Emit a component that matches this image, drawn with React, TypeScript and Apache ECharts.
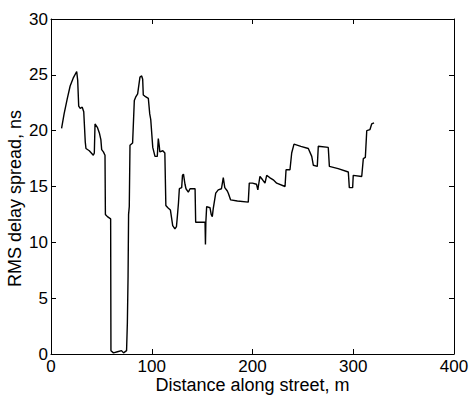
import React, { useEffect, useRef } from "react";
import * as echarts from "echarts";

const distance: number[] = [
  10.5, 13, 16, 19, 22, 25.5, 26.5, 27.5, 29, 31, 32.5, 34, 34.7, 38, 42, 43, 43.7, 46, 48, 49.5,
  50.3, 52, 53.6, 54, 56, 59.2, 59.5, 62, 66, 70, 72, 75, 75.8, 76.5, 77, 77.7, 78.4, 81, 82.7, 84,
  86, 88.3, 90, 91, 91.6, 93, 96.6, 98, 99, 101, 103.2, 105.5, 106.5, 107.5, 108, 111, 113, 114, 116, 118.5,
  120.8, 123, 124.5, 125.4, 126.5, 127.4, 129.7, 130.5, 131.5, 133, 134, 136.3, 138, 143, 143.6, 148, 152.9, 153.3, 153.7, 154.5,
  157.8, 159, 160.1, 161, 163.5, 166, 169.2, 171, 172.5, 175, 176, 178.3, 185, 195.8, 196.8, 200, 204, 205.3, 205.8, 207.4,
  210, 212.4, 214.1, 217, 220.6, 224, 232.3, 233.3, 237.2, 238.9, 241.2, 248, 255.4, 258.8, 260.4, 264.3, 265.3, 275.2, 276.3, 285,
  295.1, 296.1, 299.4, 300, 308.4, 310, 312, 313.4, 316.6, 318.3, 320.6,
];

const delaySpread: number[] = [
  20.2, 21.5, 22.8, 24, 24.7, 25.3, 24.5, 22.2, 22, 22.1, 21.7, 19, 18.4, 18.2, 17.8, 18, 20.6, 20.3, 19.8, 19.2,
  18.3, 18.1, 17.8, 12.5, 12.3, 12.1, 0.3, 0.1, 0.2, 0.3, 0.1, 0.3, 2.8, 7, 12.5, 13.2, 18.7, 18.9, 22.7, 23,
  23.3, 24.8, 24.9, 24.6, 23.2, 23.1, 22.9, 21.5, 21, 18.5, 17.7, 17.7, 19.3, 18.6, 18.1, 18.2, 18, 13.3, 13.1, 12.9,
  11.5, 11.2, 11.4, 12.3, 13.5, 14.8, 14.9, 16, 16.1, 15.2, 14.8, 14.5, 14.8, 14.8, 11.8, 11.8, 11.8, 9.8, 11.8, 13.2,
  13.1, 12.5, 12.3, 13, 14.4, 14.7, 14.8, 15.8, 14.9, 14.6, 14.4, 13.8, 13.7, 13.6, 15.3, 15.3, 15.2, 14.7, 15, 15.9,
  15.6, 15.3, 16, 15.8, 15.6, 15.3, 15, 16.5, 16.5, 18, 18.8, 18.6, 18.4, 17.7, 16.9, 16.8, 18.6, 18.5, 16.8, 16.6,
  16.3, 14.9, 14.9, 16, 15.9, 17.5, 17.6, 20, 20.1, 20.6, 20.7,
];

const xTitle = "Distance along street, m";
const yTitle = "RMS delay spread, ns";

export default function App() {
  const ref = useRef<HTMLDivElement>(null);
  useEffect(() => {
    if (!ref.current) return;
    const chart = echarts.init(ref.current, null, { renderer: "svg" });
    const font = "Liberation Sans, Arial, sans-serif";
    const lineStyle = { color: "#000", width: 1 };
    const tick = { show: true, inside: true, length: 5, lineStyle };
    chart.setOption({
      animation: false,
      backgroundColor: "#fff",
      grid: { left: 51, right: 16, top: 19, bottom: 42, containLabel: false, outerBoundsMode: "none" },
      xAxis: [
        {
          type: "value",
          min: 0,
          max: 400,
          interval: 100,
          position: "bottom",
          axisLine: { show: true, onZero: false, lineStyle },
          axisTick: tick,
          splitLine: { show: false },
          axisLabel: { color: "#000", fontSize: 17, fontFamily: font, margin: 4, lineHeight: 17 },
          name: xTitle,
          nameLocation: "middle",
          nameGap: 22,
          nameMoveOverlap: false,
          nameTextStyle: { color: "#000", fontSize: 18, fontFamily: font, lineHeight: 18 },
        },
        {
          type: "value",
          min: 0,
          max: 400,
          interval: 100,
          position: "top",
          axisLine: { show: true, onZero: false, lineStyle },
          axisTick: tick,
          splitLine: { show: false },
          axisLabel: { show: false },
        },
      ],
      yAxis: [
        {
          type: "value",
          min: 0,
          max: 30,
          interval: 5,
          position: "left",
          axisLine: { show: true, onZero: false, lineStyle },
          axisTick: tick,
          splitLine: { show: false },
          axisLabel: { color: "#000", fontSize: 17, fontFamily: font, margin: 3 },
          name: yTitle,
          nameLocation: "middle",
          nameGap: 27,
          nameMoveOverlap: false,
          nameRotate: 90,
          nameTextStyle: { color: "#000", fontSize: 18, fontFamily: font, lineHeight: 18, padding: [0, 24, 0, 0] },
        },
        {
          type: "value",
          min: 0,
          max: 30,
          interval: 5,
          position: "right",
          axisLine: { show: true, onZero: false, lineStyle },
          axisTick: tick,
          splitLine: { show: false },
          axisLabel: { show: false },
        },
      ],
      series: [
        {
          type: "line",
          xAxisIndex: 0,
          yAxisIndex: 0,
          data: distance.map((d, i) => [d, delaySpread[i]]),
          showSymbol: false,
          symbol: "none",
          lineStyle: { color: "#000", width: 1.4 },
        },
      ],
    });
    return () => chart.dispose();
  }, []);
  return (
    <div
      ref={ref}
      style={{ position: "fixed", left: 0, top: 0, width: 470, height: 396, background: "#fff" }}
    />
  );
}
